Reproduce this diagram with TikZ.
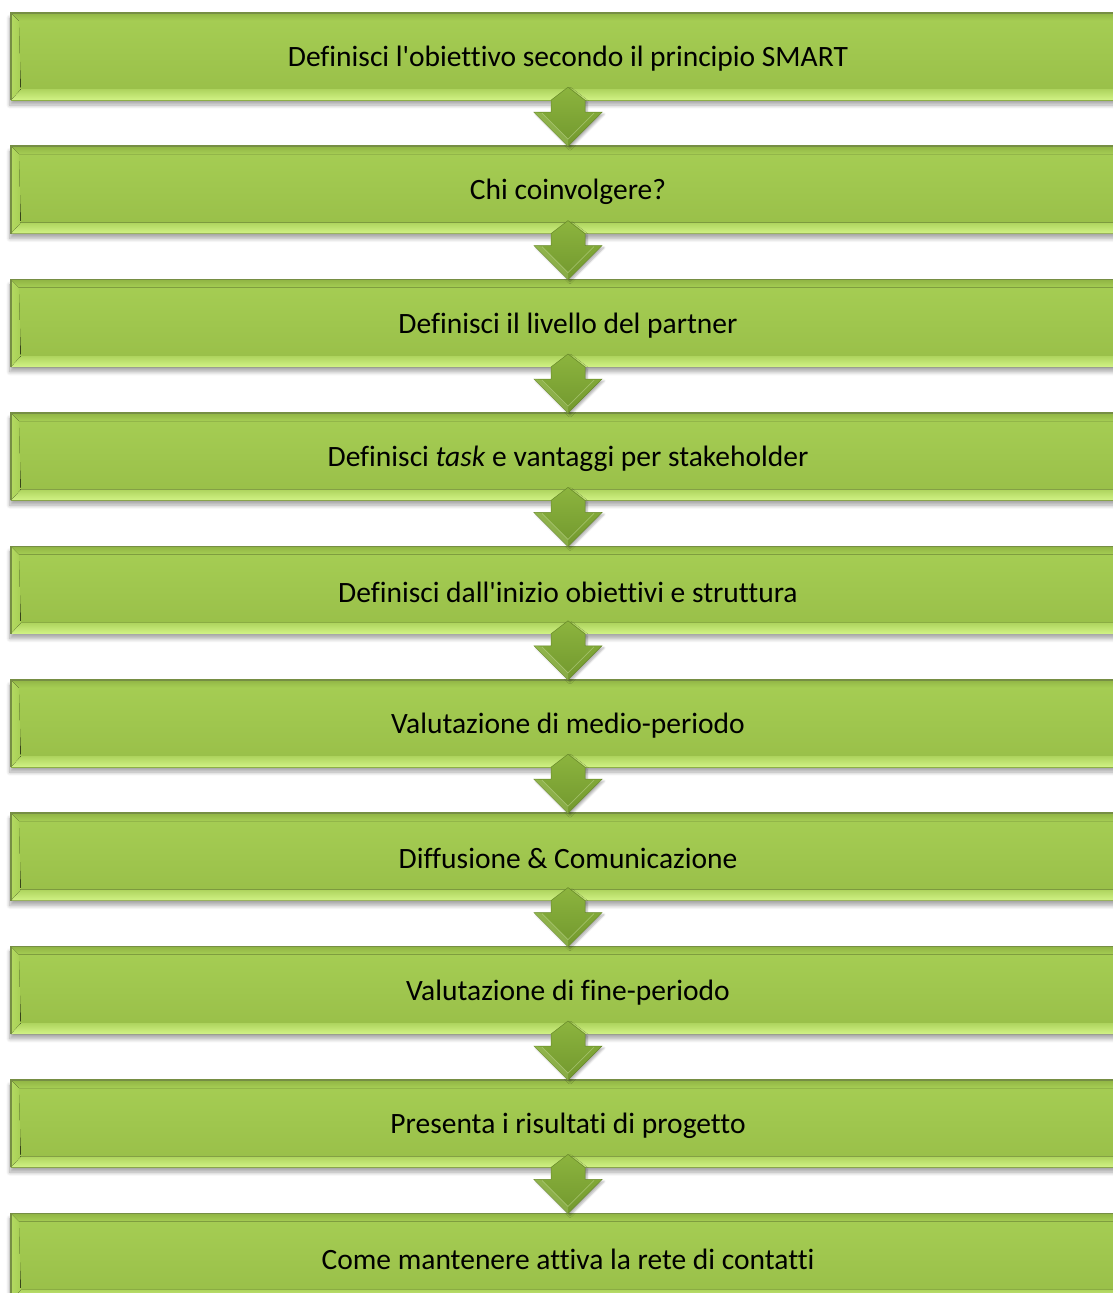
\documentclass[tikz,border=0pt]{standalone}
\usepackage{fontspec}
\setmainfont[Ligatures={NoCommon}]{Carlito}
\usetikzlibrary{calc,shadows.blur}
\definecolor{boxtop}{RGB}{166,206,84}
\definecolor{boxbot}{RGB}{152,190,72}
\definecolor{bevlight}{RGB}{210,243,134}
\definecolor{bevmid}{RGB}{174,212,94}
\definecolor{bevdark}{RGB}{118,142,68}
\definecolor{bevleft}{RGB}{180,218,98}
\definecolor{arrtop}{RGB}{140,180,62}
\definecolor{arrbot}{RGB}{114,152,46}
\newcommand{\apos}{\textquotesingle}
\begin{document}
\begin{tikzpicture}[x=1pt,y=-1pt,
  stepbox/.style={minimum width=1114pt, minimum height=87pt, inner sep=0pt,
    top color=boxtop, bottom color=boxbot,
    blur shadow={shadow xshift=-1pt, shadow yshift=-5pt, shadow blur steps=8, shadow blur radius=4pt, shadow opacity=35}},
  steptext/.style={font=\fontsize{29.5}{34}\selectfont, text=black, inner sep=0pt},
  arrowshape/.style={top color=arrtop, bottom color=arrbot, draw=arrbot!90!black, line width=0.5pt,
    blur shadow={shadow xshift=2pt, shadow yshift=-2pt, shadow blur steps=5, shadow blur radius=2pt, shadow opacity=30}},
  bevb/.style={top color=bevmid, bottom color=bevlight},
  bevt/.style={top color=boxbot!95!black, bottom color=boxtop},
  bevl/.style={left color=bevleft, right color=boxtop},
  edge/.style={draw=bevdark, line width=1.6pt}]
\useasboundingbox (0,0) rectangle (1113,1293);
\begin{scope}
\clip (0,0) rectangle (1113,1293);
\foreach \i/\t in {1/Definisci l\apos obiettivo secondo il principio SMART,
                   2/Chi coinvolgere?,
                   3/Definisci il livello del partner,
                   4/Definisci \textit{task} e vantaggi per stakeholder,
                   5/Definisci dall\apos inizio obiettivi e struttura,
                   6/Valutazione di medio-periodo,
                   7/Diffusione \& Comunicazione,
                   8/Valutazione di fine-periodo,
                   9/Presenta i risultati di progetto,
                   10/Come mantenere attiva la rete di contatti}{
  \node[stepbox] (b\i) at (568,{56.5+133.4*(\i-1)}) {};
  \fill[bevt] (b\i.north west) -- (b\i.north east) -- ($(b\i.north east)+(-8,8)$) -- ($(b\i.north west)+(8,8)$) -- cycle;
  \fill[bevb] (b\i.south west) -- (b\i.south east) -- ($(b\i.south east)+(-10,-11)$) -- ($(b\i.south west)+(10,-11)$) -- cycle;
  \fill[bevl] (b\i.north west) -- ($(b\i.north west)+(8,8)$) -- ($(b\i.south west)+(10,-11)$) -- (b\i.south west) -- cycle;
  \draw[edge] (b\i.south west) -- (b\i.north west) -- (b\i.north east);
  \node[steptext] (t\i) at ($(b\i)+(0,2)$) {\t};
}
\foreach \i [evaluate=\i as \j using int(\i+1)] in {1,...,9}{
  \coordinate (m\i) at (b\i.south);
  \coordinate (n\i) at (b\j.north);
  \path[arrowshape] ($(m\i)+(0,-13)$) -- ($(m\i)+(17,0)$) -- ($(n\i)+(17,-34)$) -- ($(n\i)+(34,-34)$)
     -- (n\i) -- ($(n\i)+(-34,-34)$) -- ($(n\i)+(-17,-34)$) -- ($(m\i)+(-17,0)$) -- cycle;
  \fill[arrtop!80!white, opacity=0.45] ($(n\i)+(-34,-34)$) -- ($(n\i)+(-26,-33)$) -- ($(n\i)+(0,-7)$) -- (n\i) -- cycle;
  \draw[arrtop!60!white, line width=0.7pt, opacity=0.6] ($(n\i)+(-26,-33)$) -- ($(n\i)+(0,-7)$) -- ($(n\i)+(26,-33)$);
}
\end{scope}
\end{tikzpicture}
\end{document}
